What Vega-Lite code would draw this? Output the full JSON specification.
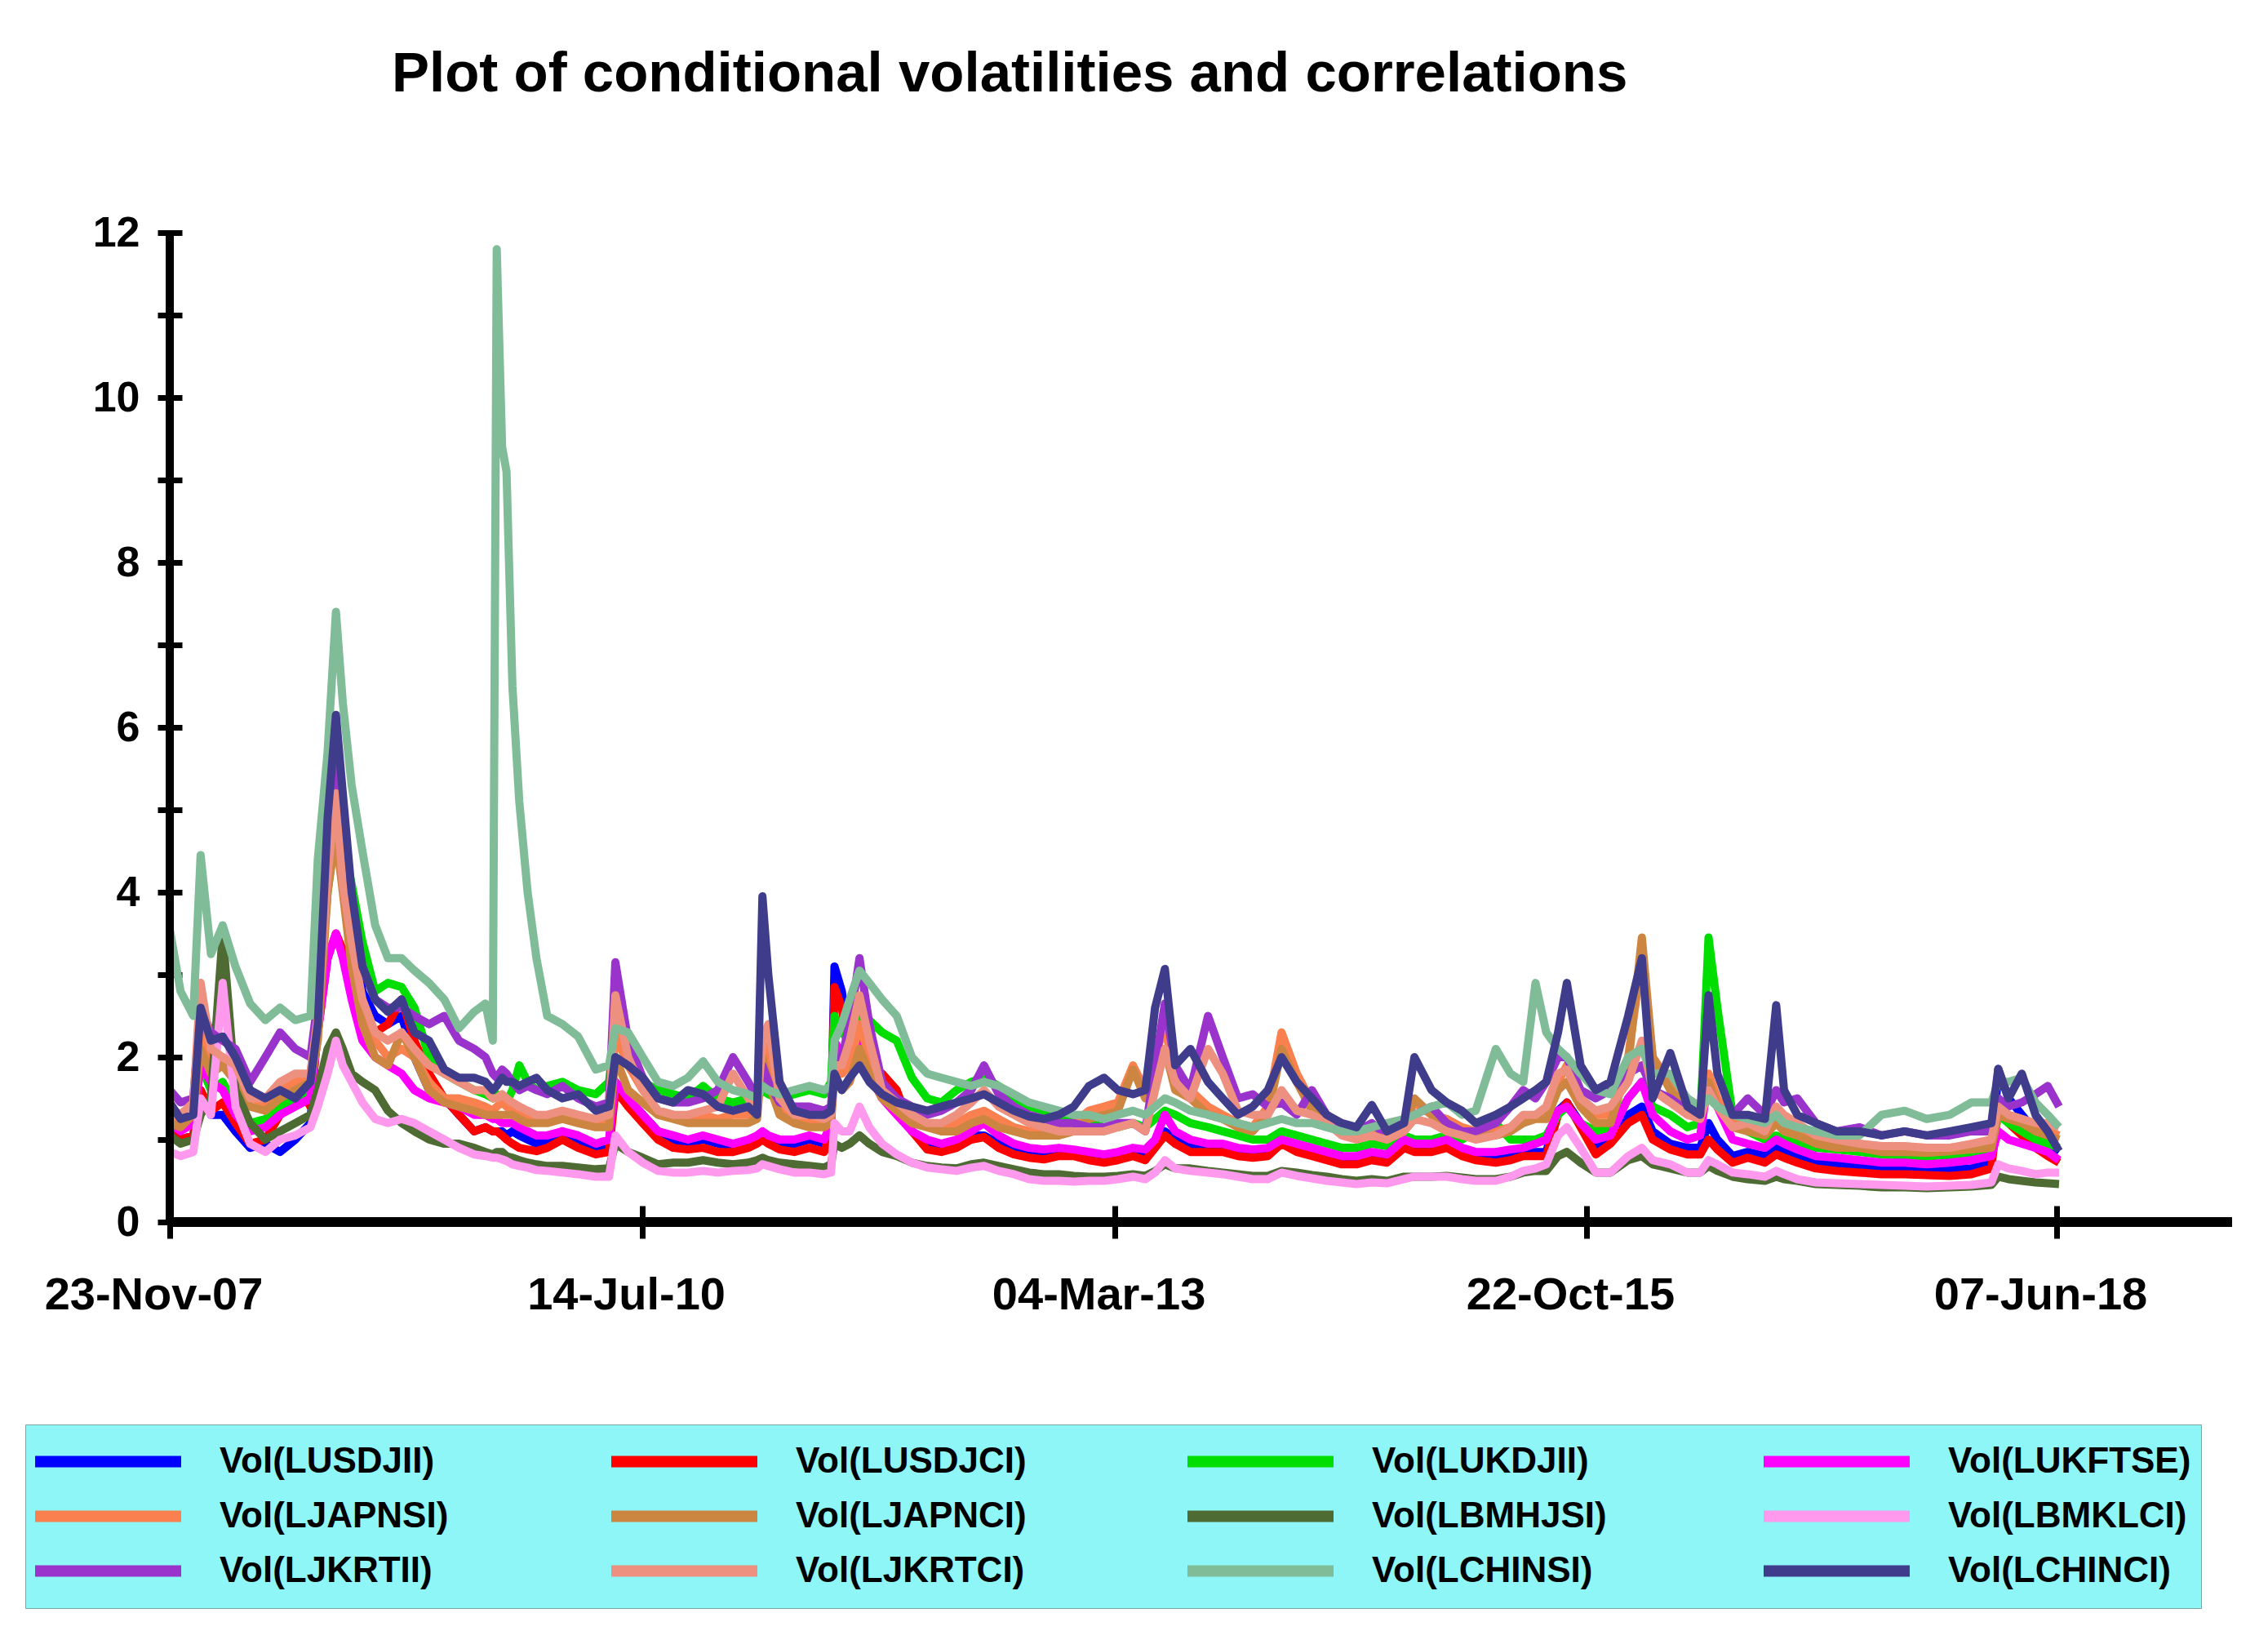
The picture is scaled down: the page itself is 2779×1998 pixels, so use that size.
{
  "$schema": "https://vega.github.io/schema/vega-lite/v6.json",
  "autosize": {"type": "none"},
  "width": 2527,
  "height": 1212,
  "padding": {"left": 208, "top": 285, "right": 44, "bottom": 501},
  "background": "white",
  "config": {"view": {"stroke": null}},
  "title": {
    "text": "Plot of conditional volatilities and correlations",
    "anchor": "start",
    "frame": "group",
    "dx": 272,
    "offset": 133,
    "font": "Liberation Sans",
    "fontSize": 69,
    "fontWeight": "bold",
    "color": "black"
  },
  "data": {
    "values": [
      {"d":"2007-11-23","LUSDJII":1.05,"LUSDJCI":1.1,"LUKDJII":1.3,"LUKFTSE":1.2,"LJAPNSI":1.3,"LJAPNCI":1.2,"LBMHJSI":1.05,"LBMKLCI":0.85,"LJKRTII":1.6,"LJKRTCI":1.4,"LCHINSI":3.55,"LCHINCI":1.45},
      {"d":"2007-12-15","LUSDJII":1.0,"LUSDJCI":1.0,"LUKDJII":1.2,"LUKFTSE":1.1,"LJAPNSI":1.25,"LJAPNCI":1.15,"LBMHJSI":0.95,"LBMKLCI":0.8,"LJKRTII":1.45,"LJKRTCI":1.3,"LCHINSI":2.8,"LCHINCI":1.25},
      {"d":"2008-01-10","LUSDJII":1.05,"LUSDJCI":1.05,"LUKDJII":1.3,"LUKFTSE":1.2,"LJAPNSI":1.4,"LJAPNCI":1.3,"LBMHJSI":1.0,"LBMKLCI":0.85,"LJKRTII":1.5,"LJKRTCI":1.45,"LCHINSI":2.5,"LCHINCI":1.3},
      {"d":"2008-01-25","LUSDJII":1.6,"LUSDJCI":1.6,"LUKDJII":1.9,"LUKFTSE":1.9,"LJAPNSI":2.3,"LJAPNCI":2.1,"LBMHJSI":1.3,"LBMKLCI":1.5,"LJKRTII":2.6,"LJKRTCI":2.9,"LCHINSI":4.45,"LCHINCI":2.6},
      {"d":"2008-02-15","LUSDJII":1.3,"LUSDJCI":1.35,"LUKDJII":1.6,"LUKFTSE":1.7,"LJAPNSI":1.9,"LJAPNCI":1.8,"LBMHJSI":1.5,"LBMKLCI":1.3,"LJKRTII":2.3,"LJKRTCI":2.1,"LCHINSI":3.25,"LCHINCI":2.2},
      {"d":"2008-03-10","LUSDJII":1.3,"LUSDJCI":1.45,"LUKDJII":1.7,"LUKFTSE":1.6,"LJAPNSI":2.0,"LJAPNCI":1.9,"LBMHJSI":3.5,"LBMKLCI":2.9,"LJKRTII":2.2,"LJKRTCI":2.0,"LCHINSI":3.6,"LCHINCI":2.25},
      {"d":"2008-04-05","LUSDJII":1.1,"LUSDJCI":1.2,"LUKDJII":1.4,"LUKFTSE":1.3,"LJAPNSI":1.8,"LJAPNCI":1.7,"LBMHJSI":1.6,"LBMKLCI":1.4,"LJKRTII":2.1,"LJKRTCI":1.9,"LCHINSI":3.1,"LCHINCI":2.0},
      {"d":"2008-05-05","LUSDJII":0.9,"LUSDJCI":0.95,"LUKDJII":1.2,"LUKFTSE":1.1,"LJAPNSI":1.5,"LJAPNCI":1.4,"LBMHJSI":1.2,"LBMKLCI":0.95,"LJKRTII":1.7,"LJKRTCI":1.5,"LCHINSI":2.65,"LCHINCI":1.6},
      {"d":"2008-06-05","LUSDJII":0.95,"LUSDJCI":1.0,"LUKDJII":1.25,"LUKFTSE":1.15,"LJAPNSI":1.45,"LJAPNCI":1.35,"LBMHJSI":1.0,"LBMKLCI":0.85,"LJKRTII":2.0,"LJKRTCI":1.5,"LCHINSI":2.45,"LCHINCI":1.5},
      {"d":"2008-07-05","LUSDJII":0.85,"LUSDJCI":1.3,"LUKDJII":1.4,"LUKFTSE":1.3,"LJAPNSI":1.6,"LJAPNCI":1.5,"LBMHJSI":1.1,"LBMKLCI":1.0,"LJKRTII":2.3,"LJKRTCI":1.7,"LCHINSI":2.6,"LCHINCI":1.6},
      {"d":"2008-08-05","LUSDJII":1.0,"LUSDJCI":1.7,"LUKDJII":1.5,"LUKFTSE":1.4,"LJAPNSI":1.7,"LJAPNCI":1.6,"LBMHJSI":1.2,"LBMKLCI":1.05,"LJKRTII":2.1,"LJKRTCI":1.8,"LCHINSI":2.45,"LCHINCI":1.5},
      {"d":"2008-09-05","LUSDJII":1.2,"LUSDJCI":1.4,"LUKDJII":1.6,"LUKFTSE":1.5,"LJAPNSI":1.8,"LJAPNCI":1.7,"LBMHJSI":1.3,"LBMKLCI":1.15,"LJKRTII":2.0,"LJKRTCI":1.8,"LCHINSI":2.5,"LCHINCI":1.7},
      {"d":"2008-09-20","LUSDJII":2.5,"LUSDJCI":2.3,"LUKDJII":2.6,"LUKFTSE":2.3,"LJAPNSI":2.5,"LJAPNCI":2.2,"LBMHJSI":1.6,"LBMKLCI":1.4,"LJKRTII":2.7,"LJKRTCI":2.5,"LCHINSI":4.4,"LCHINCI":2.4},
      {"d":"2008-10-10","LUSDJII":4.2,"LUSDJCI":3.2,"LUKDJII":4.0,"LUKFTSE":3.2,"LJAPNSI":4.4,"LJAPNCI":4.0,"LBMHJSI":2.1,"LBMKLCI":1.8,"LJKRTII":4.6,"LJKRTCI":4.2,"LCHINSI":5.7,"LCHINCI":4.9},
      {"d":"2008-10-27","LUSDJII":5.3,"LUSDJCI":3.5,"LUKDJII":4.8,"LUKFTSE":3.5,"LJAPNSI":5.0,"LJAPNCI":4.7,"LBMHJSI":2.3,"LBMKLCI":2.2,"LJKRTII":5.6,"LJKRTCI":5.2,"LCHINSI":7.4,"LCHINCI":6.15},
      {"d":"2008-11-10","LUSDJII":4.3,"LUSDJCI":3.3,"LUKDJII":4.6,"LUKFTSE":3.2,"LJAPNSI":4.2,"LJAPNCI":4.0,"LBMHJSI":2.1,"LBMKLCI":1.9,"LJKRTII":4.9,"LJKRTCI":4.1,"LCHINSI":6.3,"LCHINCI":5.2},
      {"d":"2008-11-28","LUSDJII":3.6,"LUSDJCI":3.0,"LUKDJII":4.1,"LUKFTSE":2.7,"LJAPNSI":3.3,"LJAPNCI":3.1,"LBMHJSI":1.8,"LBMKLCI":1.7,"LJKRTII":3.8,"LJKRTCI":3.4,"LCHINSI":5.3,"LCHINCI":4.0},
      {"d":"2008-12-20","LUSDJII":2.8,"LUSDJCI":2.5,"LUKDJII":3.4,"LUKFTSE":2.2,"LJAPNSI":2.6,"LJAPNCI":2.4,"LBMHJSI":1.7,"LBMKLCI":1.45,"LJKRTII":3.1,"LJKRTCI":2.7,"LCHINSI":4.5,"LCHINCI":3.1},
      {"d":"2009-01-15","LUSDJII":2.5,"LUSDJCI":2.3,"LUKDJII":2.8,"LUKFTSE":2.0,"LJAPNSI":2.2,"LJAPNCI":2.0,"LBMHJSI":1.6,"LBMKLCI":1.25,"LJKRTII":2.7,"LJKRTCI":2.3,"LCHINSI":3.6,"LCHINCI":2.7},
      {"d":"2009-02-10","LUSDJII":2.4,"LUSDJCI":2.4,"LUKDJII":2.9,"LUKFTSE":1.9,"LJAPNSI":2.0,"LJAPNCI":1.9,"LBMHJSI":1.35,"LBMKLCI":1.2,"LJKRTII":2.6,"LJKRTCI":2.2,"LCHINSI":3.2,"LCHINCI":2.55},
      {"d":"2009-03-10","LUSDJII":2.5,"LUSDJCI":2.7,"LUKDJII":2.85,"LUKFTSE":1.8,"LJAPNSI":2.1,"LJAPNCI":2.3,"LBMHJSI":1.2,"LBMKLCI":1.25,"LJKRTII":2.6,"LJKRTCI":2.3,"LCHINSI":3.2,"LCHINCI":2.7},
      {"d":"2009-04-05","LUSDJII":2.0,"LUSDJCI":2.2,"LUKDJII":2.6,"LUKFTSE":1.6,"LJAPNSI":2.0,"LJAPNCI":2.0,"LBMHJSI":1.1,"LBMKLCI":1.2,"LJKRTII":2.5,"LJKRTCI":2.1,"LCHINSI":3.05,"LCHINCI":2.3},
      {"d":"2009-05-05","LUSDJII":1.6,"LUSDJCI":1.8,"LUKDJII":2.0,"LUKFTSE":1.5,"LJAPNSI":1.7,"LJAPNCI":1.6,"LBMHJSI":1.0,"LBMKLCI":1.1,"LJKRTII":2.4,"LJKRTCI":1.9,"LCHINSI":2.9,"LCHINCI":2.2},
      {"d":"2009-06-05","LUSDJII":1.5,"LUSDJCI":1.5,"LUKDJII":1.8,"LUKFTSE":1.45,"LJAPNSI":1.5,"LJAPNCI":1.45,"LBMHJSI":0.95,"LBMKLCI":1.0,"LJKRTII":2.5,"LJKRTCI":1.8,"LCHINSI":2.7,"LCHINCI":1.85},
      {"d":"2009-07-05","LUSDJII":1.3,"LUSDJCI":1.3,"LUKDJII":1.7,"LUKFTSE":1.4,"LJAPNSI":1.5,"LJAPNCI":1.4,"LBMHJSI":0.95,"LBMKLCI":0.9,"LJKRTII":2.2,"LJKRTCI":1.7,"LCHINSI":2.35,"LCHINCI":1.75},
      {"d":"2009-08-05","LUSDJII":1.1,"LUSDJCI":1.1,"LUKDJII":1.6,"LUKFTSE":1.3,"LJAPNSI":1.45,"LJAPNCI":1.35,"LBMHJSI":0.9,"LBMKLCI":0.82,"LJKRTII":2.1,"LJKRTCI":1.6,"LCHINSI":2.55,"LCHINCI":1.75},
      {"d":"2009-08-28","LUSDJII":1.15,"LUSDJCI":1.15,"LUKDJII":1.55,"LUKFTSE":1.3,"LJAPNSI":1.4,"LJAPNCI":1.3,"LBMHJSI":0.85,"LBMKLCI":0.8,"LJKRTII":2.0,"LJKRTCI":1.6,"LCHINSI":2.65,"LCHINCI":1.7},
      {"d":"2009-09-12","LUSDJII":1.1,"LUSDJCI":1.1,"LUKDJII":1.5,"LUKFTSE":1.25,"LJAPNSI":1.35,"LJAPNCI":1.3,"LBMHJSI":0.82,"LBMKLCI":0.78,"LJKRTII":1.8,"LJKRTCI":1.5,"LCHINSI":2.2,"LCHINCI":1.6},
      {"d":"2009-09-20","LUSDJII":1.1,"LUSDJCI":1.1,"LUKDJII":1.55,"LUKFTSE":1.25,"LJAPNSI":1.4,"LJAPNCI":1.3,"LBMHJSI":0.85,"LBMKLCI":0.78,"LJKRTII":1.75,"LJKRTCI":1.5,"LCHINSI":11.8,"LCHINCI":1.65},
      {"d":"2009-10-01","LUSDJII":1.1,"LUSDJCI":1.05,"LUKDJII":1.5,"LUKFTSE":1.2,"LJAPNSI":1.45,"LJAPNCI":1.3,"LBMHJSI":0.85,"LBMKLCI":0.76,"LJKRTII":1.85,"LJKRTCI":1.55,"LCHINSI":9.4,"LCHINCI":1.75},
      {"d":"2009-10-10","LUSDJII":1.05,"LUSDJCI":1.0,"LUKDJII":1.45,"LUKFTSE":1.2,"LJAPNSI":1.4,"LJAPNCI":1.3,"LBMHJSI":0.8,"LBMKLCI":0.74,"LJKRTII":1.8,"LJKRTCI":1.5,"LCHINSI":9.1,"LCHINCI":1.7},
      {"d":"2009-10-22","LUSDJII":1.1,"LUSDJCI":0.95,"LUKDJII":1.6,"LUKFTSE":1.2,"LJAPNSI":1.35,"LJAPNCI":1.3,"LBMHJSI":0.78,"LBMKLCI":0.7,"LJKRTII":1.7,"LJKRTCI":1.45,"LCHINSI":6.5,"LCHINCI":1.7},
      {"d":"2009-11-05","LUSDJII":1.05,"LUSDJCI":0.9,"LUKDJII":1.9,"LUKFTSE":1.15,"LJAPNSI":1.3,"LJAPNCI":1.25,"LBMHJSI":0.75,"LBMKLCI":0.68,"LJKRTII":1.6,"LJKRTCI":1.4,"LCHINSI":5.1,"LCHINCI":1.65},
      {"d":"2009-11-22","LUSDJII":1.0,"LUSDJCI":0.88,"LUKDJII":1.7,"LUKFTSE":1.1,"LJAPNSI":1.3,"LJAPNCI":1.2,"LBMHJSI":0.72,"LBMKLCI":0.66,"LJKRTII":1.65,"LJKRTCI":1.35,"LCHINSI":4.0,"LCHINCI":1.7},
      {"d":"2009-12-10","LUSDJII":0.95,"LUSDJCI":0.86,"LUKDJII":1.6,"LUKFTSE":1.05,"LJAPNSI":1.25,"LJAPNCI":1.2,"LBMHJSI":0.7,"LBMKLCI":0.63,"LJKRTII":1.6,"LJKRTCI":1.3,"LCHINSI":3.2,"LCHINCI":1.75},
      {"d":"2010-01-01","LUSDJII":0.95,"LUSDJCI":0.9,"LUKDJII":1.65,"LUKFTSE":1.05,"LJAPNSI":1.25,"LJAPNCI":1.2,"LBMHJSI":0.68,"LBMKLCI":0.62,"LJKRTII":1.55,"LJKRTCI":1.3,"LCHINSI":2.5,"LCHINCI":1.6},
      {"d":"2010-02-01","LUSDJII":1.1,"LUSDJCI":1.0,"LUKDJII":1.7,"LUKFTSE":1.1,"LJAPNSI":1.3,"LJAPNCI":1.25,"LBMHJSI":0.68,"LBMKLCI":0.6,"LJKRTII":1.65,"LJKRTCI":1.35,"LCHINSI":2.4,"LCHINCI":1.5},
      {"d":"2010-03-05","LUSDJII":0.95,"LUSDJCI":0.9,"LUKDJII":1.6,"LUKFTSE":1.05,"LJAPNSI":1.25,"LJAPNCI":1.2,"LBMHJSI":0.66,"LBMKLCI":0.58,"LJKRTII":1.5,"LJKRTCI":1.3,"LCHINSI":2.25,"LCHINCI":1.55},
      {"d":"2010-04-10","LUSDJII":0.85,"LUSDJCI":0.82,"LUKDJII":1.55,"LUKFTSE":0.95,"LJAPNSI":1.2,"LJAPNCI":1.15,"LBMHJSI":0.64,"LBMKLCI":0.55,"LJKRTII":1.4,"LJKRTCI":1.25,"LCHINSI":1.85,"LCHINCI":1.35},
      {"d":"2010-05-07","LUSDJII":0.9,"LUSDJCI":0.85,"LUKDJII":1.7,"LUKFTSE":1.0,"LJAPNSI":1.2,"LJAPNCI":1.15,"LBMHJSI":0.65,"LBMKLCI":0.55,"LJKRTII":1.45,"LJKRTCI":1.3,"LCHINSI":1.9,"LCHINCI":1.4},
      {"d":"2010-05-20","LUSDJII":1.7,"LUSDJCI":1.6,"LUKDJII":2.3,"LUKFTSE":1.7,"LJAPNSI":2.3,"LJAPNCI":2.0,"LBMHJSI":0.95,"LBMKLCI":1.05,"LJKRTII":3.15,"LJKRTCI":2.75,"LCHINSI":2.35,"LCHINCI":2.0},
      {"d":"2010-06-15","LUSDJII":1.5,"LUSDJCI":1.4,"LUKDJII":1.9,"LUKFTSE":1.5,"LJAPNSI":1.9,"LJAPNCI":1.6,"LBMHJSI":0.85,"LBMKLCI":0.85,"LJKRTII":2.2,"LJKRTCI":2.0,"LCHINSI":2.3,"LCHINCI":1.9},
      {"d":"2010-07-15","LUSDJII":1.3,"LUSDJCI":1.2,"LUKDJII":1.7,"LUKFTSE":1.3,"LJAPNSI":1.6,"LJAPNCI":1.45,"LBMHJSI":0.78,"LBMKLCI":0.72,"LJKRTII":1.75,"LJKRTCI":1.6,"LCHINSI":2.0,"LCHINCI":1.75},
      {"d":"2010-08-15","LUSDJII":1.1,"LUSDJCI":1.0,"LUKDJII":1.6,"LUKFTSE":1.1,"LJAPNSI":1.35,"LJAPNCI":1.3,"LBMHJSI":0.7,"LBMKLCI":0.62,"LJKRTII":1.5,"LJKRTCI":1.35,"LCHINSI":1.7,"LCHINCI":1.5},
      {"d":"2010-09-15","LUSDJII":1.0,"LUSDJCI":0.9,"LUKDJII":1.55,"LUKFTSE":1.05,"LJAPNSI":1.3,"LJAPNCI":1.25,"LBMHJSI":0.72,"LBMKLCI":0.6,"LJKRTII":1.45,"LJKRTCI":1.3,"LCHINSI":1.65,"LCHINCI":1.45},
      {"d":"2010-10-15","LUSDJII":0.95,"LUSDJCI":0.88,"LUKDJII":1.5,"LUKFTSE":1.0,"LJAPNSI":1.25,"LJAPNCI":1.2,"LBMHJSI":0.72,"LBMKLCI":0.6,"LJKRTII":1.45,"LJKRTCI":1.3,"LCHINSI":1.75,"LCHINCI":1.6},
      {"d":"2010-11-15","LUSDJII":1.0,"LUSDJCI":0.9,"LUKDJII":1.65,"LUKFTSE":1.05,"LJAPNSI":1.3,"LJAPNCI":1.2,"LBMHJSI":0.75,"LBMKLCI":0.62,"LJKRTII":1.5,"LJKRTCI":1.35,"LCHINSI":1.95,"LCHINCI":1.55},
      {"d":"2010-12-15","LUSDJII":0.95,"LUSDJCI":0.85,"LUKDJII":1.5,"LUKFTSE":1.0,"LJAPNSI":1.25,"LJAPNCI":1.2,"LBMHJSI":0.72,"LBMKLCI":0.6,"LJKRTII":1.6,"LJKRTCI":1.4,"LCHINSI":1.7,"LCHINCI":1.4},
      {"d":"2011-01-15","LUSDJII":0.9,"LUSDJCI":0.85,"LUKDJII":1.45,"LUKFTSE":0.95,"LJAPNSI":1.3,"LJAPNCI":1.2,"LBMHJSI":0.7,"LBMKLCI":0.62,"LJKRTII":2.0,"LJKRTCI":1.8,"LCHINSI":1.6,"LCHINCI":1.35},
      {"d":"2011-02-15","LUSDJII":0.95,"LUSDJCI":0.9,"LUKDJII":1.5,"LUKFTSE":1.0,"LJAPNSI":1.3,"LJAPNCI":1.2,"LBMHJSI":0.72,"LBMKLCI":0.63,"LJKRTII":1.7,"LJKRTCI":1.5,"LCHINSI":1.55,"LCHINCI":1.4},
      {"d":"2011-03-05","LUSDJII":1.0,"LUSDJCI":0.95,"LUKDJII":1.5,"LUKFTSE":1.05,"LJAPNSI":1.3,"LJAPNCI":1.25,"LBMHJSI":0.75,"LBMKLCI":0.65,"LJKRTII":1.5,"LJKRTCI":1.35,"LCHINSI":1.5,"LCHINCI":1.3},
      {"d":"2011-03-16","LUSDJII":1.05,"LUSDJCI":1.0,"LUKDJII":1.6,"LUKFTSE":1.1,"LJAPNSI":2.2,"LJAPNCI":2.0,"LBMHJSI":0.78,"LBMKLCI":0.7,"LJKRTII":1.9,"LJKRTCI":2.2,"LCHINSI":1.65,"LCHINCI":3.95},
      {"d":"2011-03-28","LUSDJII":1.0,"LUSDJCI":0.95,"LUKDJII":1.55,"LUKFTSE":1.05,"LJAPNSI":1.9,"LJAPNCI":1.7,"LBMHJSI":0.75,"LBMKLCI":0.68,"LJKRTII":1.7,"LJKRTCI":2.4,"LCHINSI":1.6,"LCHINCI":3.0},
      {"d":"2011-04-20","LUSDJII":0.95,"LUSDJCI":0.88,"LUKDJII":1.5,"LUKFTSE":1.0,"LJAPNSI":1.4,"LJAPNCI":1.3,"LBMHJSI":0.72,"LBMKLCI":0.64,"LJKRTII":1.45,"LJKRTCI":1.5,"LCHINSI":1.55,"LCHINCI":1.7},
      {"d":"2011-05-20","LUSDJII":0.95,"LUSDJCI":0.85,"LUKDJII":1.55,"LUKFTSE":1.0,"LJAPNSI":1.25,"LJAPNCI":1.2,"LBMHJSI":0.7,"LBMKLCI":0.6,"LJKRTII":1.4,"LJKRTCI":1.3,"LCHINSI":1.6,"LCHINCI":1.35},
      {"d":"2011-06-20","LUSDJII":1.0,"LUSDJCI":0.9,"LUKDJII":1.6,"LUKFTSE":1.05,"LJAPNSI":1.2,"LJAPNCI":1.15,"LBMHJSI":0.68,"LBMKLCI":0.6,"LJKRTII":1.4,"LJKRTCI":1.3,"LCHINSI":1.65,"LCHINCI":1.3},
      {"d":"2011-07-20","LUSDJII":0.95,"LUSDJCI":0.85,"LUKDJII":1.55,"LUKFTSE":1.0,"LJAPNSI":1.2,"LJAPNCI":1.15,"LBMHJSI":0.66,"LBMKLCI":0.58,"LJKRTII":1.35,"LJKRTCI":1.25,"LCHINSI":1.6,"LCHINCI":1.3},
      {"d":"2011-08-03","LUSDJII":1.2,"LUSDJCI":1.1,"LUKDJII":1.7,"LUKFTSE":1.2,"LJAPNSI":1.3,"LJAPNCI":1.2,"LBMHJSI":0.7,"LBMKLCI":0.6,"LJKRTII":1.4,"LJKRTCI":1.3,"LCHINSI":1.65,"LCHINCI":1.35},
      {"d":"2011-08-10","LUSDJII":3.1,"LUSDJCI":2.85,"LUKDJII":2.5,"LUKFTSE":2.2,"LJAPNSI":2.0,"LJAPNCI":1.8,"LBMHJSI":0.95,"LBMKLCI":1.2,"LJKRTII":2.0,"LJKRTCI":1.9,"LCHINSI":2.2,"LCHINCI":1.8},
      {"d":"2011-08-25","LUSDJII":2.8,"LUSDJCI":2.6,"LUKDJII":2.3,"LUKFTSE":2.0,"LJAPNSI":1.8,"LJAPNCI":1.6,"LBMHJSI":0.9,"LBMKLCI":1.1,"LJKRTII":2.0,"LJKRTCI":1.9,"LCHINSI":2.4,"LCHINCI":1.6},
      {"d":"2011-09-10","LUSDJII":2.0,"LUSDJCI":1.9,"LUKDJII":2.2,"LUKFTSE":1.9,"LJAPNSI":1.9,"LJAPNCI":1.7,"LBMHJSI":0.95,"LBMKLCI":1.1,"LJKRTII":2.4,"LJKRTCI":2.2,"LCHINSI":2.7,"LCHINCI":1.75},
      {"d":"2011-09-30","LUSDJII":2.2,"LUSDJCI":2.1,"LUKDJII":2.5,"LUKFTSE":2.15,"LJAPNSI":2.4,"LJAPNCI":2.1,"LBMHJSI":1.05,"LBMKLCI":1.4,"LJKRTII":3.2,"LJKRTCI":2.75,"LCHINSI":3.05,"LCHINCI":1.9},
      {"d":"2011-10-20","LUSDJII":1.9,"LUSDJCI":1.85,"LUKDJII":2.45,"LUKFTSE":1.8,"LJAPNSI":2.0,"LJAPNCI":1.8,"LBMHJSI":0.95,"LBMKLCI":1.15,"LJKRTII":2.4,"LJKRTCI":2.2,"LCHINSI":2.9,"LCHINCI":1.7},
      {"d":"2011-11-15","LUSDJII":1.7,"LUSDJCI":1.8,"LUKDJII":2.3,"LUKFTSE":1.5,"LJAPNSI":1.6,"LJAPNCI":1.5,"LBMHJSI":0.85,"LBMKLCI":0.95,"LJKRTII":1.7,"LJKRTCI":1.6,"LCHINSI":2.7,"LCHINCI":1.55},
      {"d":"2011-12-15","LUSDJII":1.4,"LUSDJCI":1.6,"LUKDJII":2.2,"LUKFTSE":1.3,"LJAPNSI":1.45,"LJAPNCI":1.35,"LBMHJSI":0.8,"LBMKLCI":0.82,"LJKRTII":1.5,"LJKRTCI":1.45,"LCHINSI":2.5,"LCHINCI":1.45},
      {"d":"2012-01-15","LUSDJII":1.1,"LUSDJCI":1.1,"LUKDJII":1.75,"LUKFTSE":1.1,"LJAPNSI":1.3,"LJAPNCI":1.2,"LBMHJSI":0.72,"LBMKLCI":0.72,"LJKRTII":1.4,"LJKRTCI":1.3,"LCHINSI":2.0,"LCHINCI":1.4},
      {"d":"2012-02-15","LUSDJII":0.95,"LUSDJCI":0.88,"LUKDJII":1.5,"LUKFTSE":1.0,"LJAPNSI":1.2,"LJAPNCI":1.15,"LBMHJSI":0.68,"LBMKLCI":0.66,"LJKRTII":1.3,"LJKRTCI":1.2,"LCHINSI":1.8,"LCHINCI":1.35},
      {"d":"2012-03-15","LUSDJII":0.9,"LUSDJCI":0.85,"LUKDJII":1.45,"LUKFTSE":0.95,"LJAPNSI":1.15,"LJAPNCI":1.1,"LBMHJSI":0.66,"LBMKLCI":0.64,"LJKRTII":1.35,"LJKRTCI":1.2,"LCHINSI":1.75,"LCHINCI":1.4},
      {"d":"2012-04-15","LUSDJII":0.95,"LUSDJCI":0.9,"LUKDJII":1.6,"LUKFTSE":1.0,"LJAPNSI":1.2,"LJAPNCI":1.1,"LBMHJSI":0.65,"LBMKLCI":0.62,"LJKRTII":1.45,"LJKRTCI":1.3,"LCHINSI":1.7,"LCHINCI":1.45},
      {"d":"2012-05-15","LUSDJII":1.05,"LUSDJCI":1.0,"LUKDJII":1.7,"LUKFTSE":1.1,"LJAPNSI":1.3,"LJAPNCI":1.2,"LBMHJSI":0.7,"LBMKLCI":0.66,"LJKRTII":1.6,"LJKRTCI":1.45,"LCHINSI":1.65,"LCHINCI":1.5},
      {"d":"2012-06-10","LUSDJII":1.05,"LUSDJCI":1.03,"LUKDJII":1.75,"LUKFTSE":1.2,"LJAPNSI":1.35,"LJAPNCI":1.25,"LBMHJSI":0.72,"LBMKLCI":0.68,"LJKRTII":1.9,"LJKRTCI":1.6,"LCHINSI":1.7,"LCHINCI":1.55},
      {"d":"2012-07-10","LUSDJII":0.95,"LUSDJCI":0.9,"LUKDJII":1.65,"LUKFTSE":1.05,"LJAPNSI":1.25,"LJAPNCI":1.15,"LBMHJSI":0.68,"LBMKLCI":0.62,"LJKRTII":1.55,"LJKRTCI":1.4,"LCHINSI":1.65,"LCHINCI":1.45},
      {"d":"2012-08-10","LUSDJII":0.88,"LUSDJCI":0.82,"LUKDJII":1.5,"LUKFTSE":0.95,"LJAPNSI":1.15,"LJAPNCI":1.1,"LBMHJSI":0.64,"LBMKLCI":0.58,"LJKRTII":1.4,"LJKRTCI":1.3,"LCHINSI":1.55,"LCHINCI":1.35},
      {"d":"2012-09-10","LUSDJII":0.85,"LUSDJCI":0.78,"LUKDJII":1.4,"LUKFTSE":0.9,"LJAPNSI":1.1,"LJAPNCI":1.05,"LBMHJSI":0.6,"LBMKLCI":0.52,"LJKRTII":1.3,"LJKRTCI":1.2,"LCHINSI":1.45,"LCHINCI":1.28},
      {"d":"2012-10-10","LUSDJII":0.82,"LUSDJCI":0.76,"LUKDJII":1.35,"LUKFTSE":0.88,"LJAPNSI":1.1,"LJAPNCI":1.05,"LBMHJSI":0.58,"LBMKLCI":0.5,"LJKRTII":1.25,"LJKRTCI":1.15,"LCHINSI":1.4,"LCHINCI":1.25},
      {"d":"2012-11-10","LUSDJII":0.85,"LUSDJCI":0.8,"LUKDJII":1.3,"LUKFTSE":0.9,"LJAPNSI":1.15,"LJAPNCI":1.05,"LBMHJSI":0.58,"LBMKLCI":0.5,"LJKRTII":1.2,"LJKRTCI":1.1,"LCHINSI":1.35,"LCHINCI":1.3},
      {"d":"2012-12-10","LUSDJII":0.85,"LUSDJCI":0.8,"LUKDJII":1.25,"LUKFTSE":0.88,"LJAPNSI":1.2,"LJAPNCI":1.1,"LBMHJSI":0.56,"LBMKLCI":0.49,"LJKRTII":1.2,"LJKRTCI":1.1,"LCHINSI":1.3,"LCHINCI":1.4},
      {"d":"2013-01-10","LUSDJII":0.8,"LUSDJCI":0.75,"LUKDJII":1.2,"LUKFTSE":0.85,"LJAPNSI":1.35,"LJAPNCI":1.25,"LBMHJSI":0.55,"LBMKLCI":0.5,"LJKRTII":1.15,"LJKRTCI":1.1,"LCHINSI":1.3,"LCHINCI":1.65},
      {"d":"2013-02-10","LUSDJII":0.78,"LUSDJCI":0.72,"LUKDJII":1.15,"LUKFTSE":0.82,"LJAPNSI":1.4,"LJAPNCI":1.3,"LBMHJSI":0.55,"LBMKLCI":0.5,"LJKRTII":1.15,"LJKRTCI":1.1,"LCHINSI":1.25,"LCHINCI":1.75},
      {"d":"2013-03-10","LUSDJII":0.8,"LUSDJCI":0.75,"LUKDJII":1.15,"LUKFTSE":0.85,"LJAPNSI":1.45,"LJAPNCI":1.35,"LBMHJSI":0.56,"LBMKLCI":0.52,"LJKRTII":1.2,"LJKRTCI":1.15,"LCHINSI":1.3,"LCHINCI":1.6},
      {"d":"2013-04-10","LUSDJII":0.85,"LUSDJCI":0.8,"LUKDJII":1.2,"LUKFTSE":0.9,"LJAPNSI":1.9,"LJAPNCI":1.85,"LBMHJSI":0.58,"LBMKLCI":0.55,"LJKRTII":1.2,"LJKRTCI":1.2,"LCHINSI":1.35,"LCHINCI":1.55},
      {"d":"2013-05-05","LUSDJII":0.8,"LUSDJCI":0.75,"LUKDJII":1.15,"LUKFTSE":0.88,"LJAPNSI":1.6,"LJAPNCI":1.5,"LBMHJSI":0.56,"LBMKLCI":0.52,"LJKRTII":1.1,"LJKRTCI":1.1,"LCHINSI":1.3,"LCHINCI":1.6},
      {"d":"2013-05-25","LUSDJII":0.95,"LUSDJCI":0.9,"LUKDJII":1.25,"LUKFTSE":1.0,"LJAPNSI":2.0,"LJAPNCI":1.8,"LBMHJSI":0.62,"LBMKLCI":0.6,"LJKRTII":1.9,"LJKRTCI":1.6,"LCHINSI":1.4,"LCHINCI":2.6},
      {"d":"2013-06-14","LUSDJII":1.1,"LUSDJCI":1.05,"LUKDJII":1.35,"LUKFTSE":1.3,"LJAPNSI":2.4,"LJAPNCI":2.1,"LBMHJSI":0.7,"LBMKLCI":0.75,"LJKRTII":2.65,"LJKRTCI":2.1,"LCHINSI":1.5,"LCHINCI":3.07},
      {"d":"2013-07-05","LUSDJII":1.0,"LUSDJCI":0.95,"LUKDJII":1.3,"LUKFTSE":1.1,"LJAPNSI":1.7,"LJAPNCI":1.6,"LBMHJSI":0.65,"LBMKLCI":0.65,"LJKRTII":1.9,"LJKRTCI":1.7,"LCHINSI":1.45,"LCHINCI":1.9},
      {"d":"2013-08-05","LUSDJII":0.9,"LUSDJCI":0.85,"LUKDJII":1.2,"LUKFTSE":1.0,"LJAPNSI":1.6,"LJAPNCI":1.5,"LBMHJSI":0.65,"LBMKLCI":0.62,"LJKRTII":1.6,"LJKRTCI":1.5,"LCHINSI":1.35,"LCHINCI":2.1},
      {"d":"2013-09-10","LUSDJII":0.9,"LUSDJCI":0.85,"LUKDJII":1.15,"LUKFTSE":0.95,"LJAPNSI":1.4,"LJAPNCI":1.3,"LBMHJSI":0.62,"LBMKLCI":0.6,"LJKRTII":2.5,"LJKRTCI":2.1,"LCHINSI":1.3,"LCHINCI":1.7},
      {"d":"2013-10-10","LUSDJII":0.9,"LUSDJCI":0.85,"LUKDJII":1.1,"LUKFTSE":0.95,"LJAPNSI":1.3,"LJAPNCI":1.25,"LBMHJSI":0.6,"LBMKLCI":0.58,"LJKRTII":2.0,"LJKRTCI":1.8,"LCHINSI":1.25,"LCHINCI":1.5},
      {"d":"2013-11-10","LUSDJII":0.85,"LUSDJCI":0.8,"LUKDJII":1.05,"LUKFTSE":0.9,"LJAPNSI":1.2,"LJAPNCI":1.15,"LBMHJSI":0.58,"LBMKLCI":0.55,"LJKRTII":1.5,"LJKRTCI":1.35,"LCHINSI":1.2,"LCHINCI":1.3},
      {"d":"2013-12-10","LUSDJII":0.82,"LUSDJCI":0.78,"LUKDJII":1.0,"LUKFTSE":0.88,"LJAPNSI":1.15,"LJAPNCI":1.1,"LBMHJSI":0.56,"LBMKLCI":0.52,"LJKRTII":1.55,"LJKRTCI":1.3,"LCHINSI":1.15,"LCHINCI":1.4},
      {"d":"2014-01-10","LUSDJII":0.85,"LUSDJCI":0.8,"LUKDJII":1.0,"LUKFTSE":0.9,"LJAPNSI":1.4,"LJAPNCI":1.3,"LBMHJSI":0.56,"LBMKLCI":0.52,"LJKRTII":1.4,"LJKRTCI":1.3,"LCHINSI":1.2,"LCHINCI":1.6},
      {"d":"2014-02-07","LUSDJII":1.0,"LUSDJCI":0.95,"LUKDJII":1.1,"LUKFTSE":1.0,"LJAPNSI":2.3,"LJAPNCI":2.1,"LBMHJSI":0.62,"LBMKLCI":0.6,"LJKRTII":1.45,"LJKRTCI":1.6,"LCHINSI":1.25,"LCHINCI":2.0},
      {"d":"2014-03-10","LUSDJII":0.9,"LUSDJCI":0.85,"LUKDJII":1.05,"LUKFTSE":0.95,"LJAPNSI":1.8,"LJAPNCI":1.7,"LBMHJSI":0.6,"LBMKLCI":0.56,"LJKRTII":1.3,"LJKRTCI":1.35,"LCHINSI":1.2,"LCHINCI":1.7},
      {"d":"2014-04-10","LUSDJII":0.85,"LUSDJCI":0.8,"LUKDJII":1.0,"LUKFTSE":0.9,"LJAPNSI":1.45,"LJAPNCI":1.35,"LBMHJSI":0.57,"LBMKLCI":0.53,"LJKRTII":1.6,"LJKRTCI":1.3,"LCHINSI":1.2,"LCHINCI":1.5},
      {"d":"2014-05-10","LUSDJII":0.8,"LUSDJCI":0.75,"LUKDJII":0.95,"LUKFTSE":0.85,"LJAPNSI":1.3,"LJAPNCI":1.2,"LBMHJSI":0.55,"LBMKLCI":0.5,"LJKRTII":1.3,"LJKRTCI":1.2,"LCHINSI":1.15,"LCHINCI":1.3},
      {"d":"2014-06-10","LUSDJII":0.75,"LUSDJCI":0.7,"LUKDJII":0.9,"LUKFTSE":0.8,"LJAPNSI":1.15,"LJAPNCI":1.1,"LBMHJSI":0.52,"LBMKLCI":0.48,"LJKRTII":1.15,"LJKRTCI":1.05,"LCHINSI":1.1,"LCHINCI":1.2},
      {"d":"2014-07-10","LUSDJII":0.75,"LUSDJCI":0.7,"LUKDJII":0.9,"LUKFTSE":0.8,"LJAPNSI":1.1,"LJAPNCI":1.05,"LBMHJSI":0.5,"LBMKLCI":0.46,"LJKRTII":1.1,"LJKRTCI":1.0,"LCHINSI":1.1,"LCHINCI":1.15},
      {"d":"2014-08-10","LUSDJII":0.8,"LUSDJCI":0.75,"LUKDJII":0.95,"LUKFTSE":0.85,"LJAPNSI":1.1,"LJAPNCI":1.05,"LBMHJSI":0.52,"LBMKLCI":0.48,"LJKRTII":1.2,"LJKRTCI":1.05,"LCHINSI":1.15,"LCHINCI":1.42},
      {"d":"2014-09-10","LUSDJII":0.78,"LUSDJCI":0.72,"LUKDJII":0.92,"LUKFTSE":0.82,"LJAPNSI":1.05,"LJAPNCI":1.0,"LBMHJSI":0.5,"LBMKLCI":0.47,"LJKRTII":1.05,"LJKRTCI":1.0,"LCHINSI":1.2,"LCHINCI":1.1},
      {"d":"2014-10-15","LUSDJII":0.95,"LUSDJCI":0.9,"LUKDJII":1.05,"LUKFTSE":1.0,"LJAPNSI":1.2,"LJAPNCI":1.15,"LBMHJSI":0.55,"LBMKLCI":0.52,"LJKRTII":1.2,"LJKRTCI":1.1,"LCHINSI":1.25,"LCHINCI":1.2},
      {"d":"2014-11-05","LUSDJII":0.9,"LUSDJCI":0.85,"LUKDJII":1.0,"LUKFTSE":0.95,"LJAPNSI":1.45,"LJAPNCI":1.5,"LBMHJSI":0.55,"LBMKLCI":0.55,"LJKRTII":1.3,"LJKRTCI":1.25,"LCHINSI":1.3,"LCHINCI":2.0},
      {"d":"2014-12-10","LUSDJII":0.9,"LUSDJCI":0.85,"LUKDJII":1.0,"LUKFTSE":0.95,"LJAPNSI":1.3,"LJAPNCI":1.3,"LBMHJSI":0.55,"LBMKLCI":0.55,"LJKRTII":1.4,"LJKRTCI":1.2,"LCHINSI":1.4,"LCHINCI":1.6},
      {"d":"2015-01-10","LUSDJII":0.95,"LUSDJCI":0.9,"LUKDJII":1.05,"LUKFTSE":1.0,"LJAPNSI":1.25,"LJAPNCI":1.2,"LBMHJSI":0.56,"LBMKLCI":0.55,"LJKRTII":1.2,"LJKRTCI":1.1,"LCHINSI":1.45,"LCHINCI":1.45},
      {"d":"2015-02-10","LUSDJII":0.85,"LUSDJCI":0.8,"LUKDJII":1.0,"LUKFTSE":0.9,"LJAPNSI":1.15,"LJAPNCI":1.1,"LBMHJSI":0.54,"LBMKLCI":0.52,"LJKRTII":1.1,"LJKRTCI":1.05,"LCHINSI":1.3,"LCHINCI":1.35},
      {"d":"2015-03-10","LUSDJII":0.8,"LUSDJCI":0.75,"LUKDJII":1.1,"LUKFTSE":0.85,"LJAPNSI":1.1,"LJAPNCI":1.05,"LBMHJSI":0.52,"LBMKLCI":0.5,"LJKRTII":1.1,"LJKRTCI":1.0,"LCHINSI":1.35,"LCHINCI":1.2},
      {"d":"2015-04-20","LUSDJII":0.78,"LUSDJCI":0.72,"LUKDJII":1.2,"LUKFTSE":0.85,"LJAPNSI":1.1,"LJAPNCI":1.05,"LBMHJSI":0.52,"LBMKLCI":0.5,"LJKRTII":1.2,"LJKRTCI":1.05,"LCHINSI":2.1,"LCHINCI":1.3},
      {"d":"2015-05-20","LUSDJII":0.8,"LUSDJCI":0.75,"LUKDJII":1.0,"LUKFTSE":0.88,"LJAPNSI":1.15,"LJAPNCI":1.1,"LBMHJSI":0.55,"LBMKLCI":0.55,"LJKRTII":1.4,"LJKRTCI":1.15,"LCHINSI":1.8,"LCHINCI":1.4},
      {"d":"2015-06-15","LUSDJII":0.85,"LUSDJCI":0.8,"LUKDJII":1.0,"LUKFTSE":0.9,"LJAPNSI":1.25,"LJAPNCI":1.2,"LBMHJSI":0.6,"LBMKLCI":0.62,"LJKRTII":1.6,"LJKRTCI":1.3,"LCHINSI":1.7,"LCHINCI":1.5},
      {"d":"2015-07-10","LUSDJII":0.85,"LUSDJCI":0.8,"LUKDJII":1.0,"LUKFTSE":0.95,"LJAPNSI":1.3,"LJAPNCI":1.25,"LBMHJSI":0.62,"LBMKLCI":0.65,"LJKRTII":1.5,"LJKRTCI":1.3,"LCHINSI":2.9,"LCHINCI":1.6},
      {"d":"2015-08-01","LUSDJII":0.85,"LUSDJCI":0.8,"LUKDJII":1.05,"LUKFTSE":1.0,"LJAPNSI":1.3,"LJAPNCI":1.25,"LBMHJSI":0.62,"LBMKLCI":0.7,"LJKRTII":1.7,"LJKRTCI":1.4,"LCHINSI":2.3,"LCHINCI":1.7},
      {"d":"2015-08-25","LUSDJII":1.35,"LUSDJCI":1.3,"LUKDJII":1.3,"LUKFTSE":1.35,"LJAPNSI":1.7,"LJAPNCI":1.6,"LBMHJSI":0.8,"LBMKLCI":1.05,"LJKRTII":2.0,"LJKRTCI":1.8,"LCHINSI":2.1,"LCHINCI":2.3},
      {"d":"2015-09-12","LUSDJII":1.45,"LUSDJCI":1.45,"LUKDJII":1.4,"LUKFTSE":1.4,"LJAPNSI":1.9,"LJAPNCI":1.7,"LBMHJSI":0.85,"LBMKLCI":1.15,"LJKRTII":2.0,"LJKRTCI":1.85,"LCHINSI":2.0,"LCHINCI":2.9},
      {"d":"2015-10-10","LUSDJII":1.2,"LUSDJCI":1.15,"LUKDJII":1.2,"LUKFTSE":1.2,"LJAPNSI":1.5,"LJAPNCI":1.4,"LBMHJSI":0.72,"LBMKLCI":0.9,"LJKRTII":1.6,"LJKRTCI":1.5,"LCHINSI":1.8,"LCHINCI":1.9},
      {"d":"2015-11-10","LUSDJII":0.9,"LUSDJCI":0.82,"LUKDJII":1.1,"LUKFTSE":1.0,"LJAPNSI":1.3,"LJAPNCI":1.2,"LBMHJSI":0.6,"LBMKLCI":0.6,"LJKRTII":1.5,"LJKRTCI":1.35,"LCHINSI":1.6,"LCHINCI":1.6},
      {"d":"2015-12-10","LUSDJII":1.0,"LUSDJCI":0.95,"LUKDJII":1.15,"LUKFTSE":1.05,"LJAPNSI":1.3,"LJAPNCI":1.2,"LBMHJSI":0.6,"LBMKLCI":0.6,"LJKRTII":1.6,"LJKRTCI":1.4,"LCHINSI":1.55,"LCHINCI":1.7},
      {"d":"2016-01-15","LUSDJII":1.3,"LUSDJCI":1.2,"LUKDJII":1.5,"LUKFTSE":1.5,"LJAPNSI":2.0,"LJAPNCI":1.9,"LBMHJSI":0.75,"LBMKLCI":0.8,"LJKRTII":1.8,"LJKRTCI":1.7,"LCHINSI":2.0,"LCHINCI":2.5},
      {"d":"2016-02-12","LUSDJII":1.4,"LUSDJCI":1.3,"LUKDJII":1.7,"LUKFTSE":1.7,"LJAPNSI":3.2,"LJAPNCI":3.45,"LBMHJSI":0.8,"LBMKLCI":0.9,"LJKRTII":1.9,"LJKRTCI":2.2,"LCHINSI":2.1,"LCHINCI":3.2},
      {"d":"2016-03-05","LUSDJII":1.1,"LUSDJCI":1.0,"LUKDJII":1.4,"LUKFTSE":1.3,"LJAPNSI":2.0,"LJAPNCI":2.0,"LBMHJSI":0.7,"LBMKLCI":0.75,"LJKRTII":1.6,"LJKRTCI":1.6,"LCHINSI":1.8,"LCHINCI":1.5},
      {"d":"2016-04-10","LUSDJII":0.95,"LUSDJCI":0.88,"LUKDJII":1.3,"LUKFTSE":1.1,"LJAPNSI":1.7,"LJAPNCI":1.6,"LBMHJSI":0.65,"LBMKLCI":0.7,"LJKRTII":1.5,"LJKRTCI":1.45,"LCHINSI":1.8,"LCHINCI":2.05},
      {"d":"2016-05-15","LUSDJII":0.9,"LUSDJCI":0.82,"LUKDJII":1.15,"LUKFTSE":1.0,"LJAPNSI":1.4,"LJAPNCI":1.35,"LBMHJSI":0.6,"LBMKLCI":0.6,"LJKRTII":1.35,"LJKRTCI":1.3,"LCHINSI":1.5,"LCHINCI":1.4},
      {"d":"2016-06-10","LUSDJII":0.9,"LUSDJCI":0.82,"LUKDJII":1.2,"LUKFTSE":1.05,"LJAPNSI":1.35,"LJAPNCI":1.3,"LBMHJSI":0.6,"LBMKLCI":0.6,"LJKRTII":1.3,"LJKRTCI":1.25,"LCHINSI":1.4,"LCHINCI":1.3},
      {"d":"2016-06-27","LUSDJII":1.2,"LUSDJCI":1.0,"LUKDJII":3.45,"LUKFTSE":1.75,"LJAPNSI":1.8,"LJAPNCI":1.7,"LBMHJSI":0.68,"LBMKLCI":0.75,"LJKRTII":1.6,"LJKRTCI":1.6,"LCHINSI":1.5,"LCHINCI":2.75},
      {"d":"2016-07-15","LUSDJII":1.0,"LUSDJCI":0.88,"LUKDJII":2.6,"LUKFTSE":1.4,"LJAPNSI":1.5,"LJAPNCI":1.4,"LBMHJSI":0.62,"LBMKLCI":0.7,"LJKRTII":1.4,"LJKRTCI":1.4,"LCHINSI":1.4,"LCHINCI":1.8},
      {"d":"2016-08-15","LUSDJII":0.8,"LUSDJCI":0.72,"LUKDJII":1.3,"LUKFTSE":1.0,"LJAPNSI":1.2,"LJAPNCI":1.15,"LBMHJSI":0.55,"LBMKLCI":0.6,"LJKRTII":1.3,"LJKRTCI":1.15,"LCHINSI":1.3,"LCHINCI":1.3},
      {"d":"2016-09-15","LUSDJII":0.85,"LUSDJCI":0.78,"LUKDJII":1.1,"LUKFTSE":0.95,"LJAPNSI":1.15,"LJAPNCI":1.1,"LBMHJSI":0.52,"LBMKLCI":0.58,"LJKRTII":1.5,"LJKRTCI":1.2,"LCHINSI":1.25,"LCHINCI":1.3},
      {"d":"2016-10-20","LUSDJII":0.8,"LUSDJCI":0.72,"LUKDJII":1.0,"LUKFTSE":0.9,"LJAPNSI":1.1,"LJAPNCI":1.05,"LBMHJSI":0.5,"LBMKLCI":0.55,"LJKRTII":1.3,"LJKRTCI":1.1,"LCHINSI":1.2,"LCHINCI":1.25},
      {"d":"2016-11-12","LUSDJII":0.9,"LUSDJCI":0.82,"LUKDJII":1.05,"LUKFTSE":1.0,"LJAPNSI":1.3,"LJAPNCI":1.2,"LBMHJSI":0.55,"LBMKLCI":0.62,"LJKRTII":1.6,"LJKRTCI":1.4,"LCHINSI":1.3,"LCHINCI":2.63},
      {"d":"2016-11-28","LUSDJII":0.85,"LUSDJCI":0.78,"LUKDJII":1.0,"LUKFTSE":0.95,"LJAPNSI":1.2,"LJAPNCI":1.1,"LBMHJSI":0.52,"LBMKLCI":0.58,"LJKRTII":1.45,"LJKRTCI":1.3,"LCHINSI":1.2,"LCHINCI":1.6},
      {"d":"2016-12-25","LUSDJII":0.78,"LUSDJCI":0.72,"LUKDJII":0.95,"LUKFTSE":0.88,"LJAPNSI":1.1,"LJAPNCI":1.05,"LBMHJSI":0.5,"LBMKLCI":0.52,"LJKRTII":1.5,"LJKRTCI":1.2,"LCHINSI":1.15,"LCHINCI":1.3},
      {"d":"2017-02-01","LUSDJII":0.72,"LUSDJCI":0.65,"LUKDJII":0.9,"LUKFTSE":0.8,"LJAPNSI":1.0,"LJAPNCI":0.95,"LBMHJSI":0.46,"LBMKLCI":0.48,"LJKRTII":1.2,"LJKRTCI":1.05,"LCHINSI":1.1,"LCHINCI":1.2},
      {"d":"2017-03-15","LUSDJII":0.7,"LUSDJCI":0.62,"LUKDJII":0.88,"LUKFTSE":0.78,"LJAPNSI":0.95,"LJAPNCI":0.9,"LBMHJSI":0.45,"LBMKLCI":0.47,"LJKRTII":1.1,"LJKRTCI":1.0,"LCHINSI":1.05,"LCHINCI":1.1},
      {"d":"2017-05-01","LUSDJII":0.68,"LUSDJCI":0.6,"LUKDJII":0.85,"LUKFTSE":0.75,"LJAPNSI":0.95,"LJAPNCI":0.9,"LBMHJSI":0.44,"LBMKLCI":0.46,"LJKRTII":1.15,"LJKRTCI":0.95,"LCHINSI":1.05,"LCHINCI":1.1},
      {"d":"2017-06-15","LUSDJII":0.65,"LUSDJCI":0.58,"LUKDJII":0.82,"LUKFTSE":0.72,"LJAPNSI":0.9,"LJAPNCI":0.85,"LBMHJSI":0.42,"LBMKLCI":0.45,"LJKRTII":1.05,"LJKRTCI":0.92,"LCHINSI":1.3,"LCHINCI":1.05},
      {"d":"2017-08-01","LUSDJII":0.65,"LUSDJCI":0.58,"LUKDJII":0.8,"LUKFTSE":0.72,"LJAPNSI":0.9,"LJAPNCI":0.85,"LBMHJSI":0.42,"LBMKLCI":0.44,"LJKRTII":1.1,"LJKRTCI":0.92,"LCHINSI":1.35,"LCHINCI":1.1},
      {"d":"2017-09-15","LUSDJII":0.63,"LUSDJCI":0.57,"LUKDJII":0.78,"LUKFTSE":0.7,"LJAPNSI":0.88,"LJAPNCI":0.84,"LBMHJSI":0.41,"LBMKLCI":0.43,"LJKRTII":1.05,"LJKRTCI":0.9,"LCHINSI":1.25,"LCHINCI":1.05},
      {"d":"2017-11-01","LUSDJII":0.63,"LUSDJCI":0.56,"LUKDJII":0.8,"LUKFTSE":0.72,"LJAPNSI":0.9,"LJAPNCI":0.86,"LBMHJSI":0.42,"LBMKLCI":0.44,"LJKRTII":1.05,"LJKRTCI":0.9,"LCHINSI":1.3,"LCHINCI":1.1},
      {"d":"2017-12-15","LUSDJII":0.65,"LUSDJCI":0.58,"LUKDJII":0.82,"LUKFTSE":0.75,"LJAPNSI":0.92,"LJAPNCI":0.88,"LBMHJSI":0.43,"LBMKLCI":0.45,"LJKRTII":1.1,"LJKRTCI":0.95,"LCHINSI":1.45,"LCHINCI":1.15},
      {"d":"2018-01-25","LUSDJII":0.72,"LUSDJCI":0.65,"LUKDJII":0.85,"LUKFTSE":0.8,"LJAPNSI":0.95,"LJAPNCI":0.9,"LBMHJSI":0.45,"LBMKLCI":0.48,"LJKRTII":1.1,"LJKRTCI":1.0,"LCHINSI":1.45,"LCHINCI":1.2},
      {"d":"2018-02-08","LUSDJII":1.85,"LUSDJCI":1.4,"LUKDJII":1.3,"LUKFTSE":1.1,"LJAPNSI":1.4,"LJAPNCI":1.3,"LBMHJSI":0.55,"LBMKLCI":0.7,"LJKRTII":1.5,"LJKRTCI":1.4,"LCHINSI":1.7,"LCHINCI":1.86},
      {"d":"2018-03-01","LUSDJII":1.5,"LUSDJCI":1.2,"LUKDJII":1.2,"LUKFTSE":1.0,"LJAPNSI":1.3,"LJAPNCI":1.25,"LBMHJSI":0.52,"LBMKLCI":0.65,"LJKRTII":1.4,"LJKRTCI":1.3,"LCHINSI":1.7,"LCHINCI":1.5},
      {"d":"2018-03-28","LUSDJII":1.3,"LUSDJCI":1.05,"LUKDJII":1.1,"LUKFTSE":0.95,"LJAPNSI":1.25,"LJAPNCI":1.2,"LBMHJSI":0.5,"LBMKLCI":0.62,"LJKRTII":1.45,"LJKRTCI":1.25,"LCHINSI":1.75,"LCHINCI":1.8},
      {"d":"2018-04-25","LUSDJII":1.1,"LUSDJCI":0.9,"LUKDJII":1.0,"LUKFTSE":0.9,"LJAPNSI":1.15,"LJAPNCI":1.1,"LBMHJSI":0.48,"LBMKLCI":0.58,"LJKRTII":1.55,"LJKRTCI":1.2,"LCHINSI":1.45,"LCHINCI":1.3},
      {"d":"2018-05-20","LUSDJII":0.95,"LUSDJCI":0.8,"LUKDJII":0.95,"LUKFTSE":0.85,"LJAPNSI":1.1,"LJAPNCI":1.05,"LBMHJSI":0.47,"LBMKLCI":0.6,"LJKRTII":1.65,"LJKRTCI":1.2,"LCHINSI":1.3,"LCHINCI":1.1},
      {"d":"2018-06-12","LUSDJII":0.85,"LUSDJCI":0.72,"LUKDJII":0.9,"LUKFTSE":0.75,"LJAPNSI":1.05,"LJAPNCI":1.0,"LBMHJSI":0.46,"LBMKLCI":0.6,"LJKRTII":1.4,"LJKRTCI":1.15,"LCHINSI":1.15,"LCHINCI":0.86}
    ]
  },
  "layer": [
    {
      "transform": [
        {"fold": ["LUSDJII","LUSDJCI","LUKDJII","LUKFTSE","LJAPNSI","LJAPNCI","LBMHJSI","LBMKLCI","LJKRTII","LJKRTCI","LCHINSI","LCHINCI"], "as": ["series","v"]}
      ],
      "mark": {"type": "line", "strokeWidth": 10, "strokeJoin": "round"},
      "encoding": {
        "x": {
          "field": "d",
          "type": "temporal",
          "scale": {"type": "utc", "domain": [{"year":2007,"month":11,"date":23,"utc":true},{"year":2019,"month":5,"date":31,"utc":true}], "nice": false},
          "axis": {
            "title": null,
            "values": [{"year":2007,"month":11,"date":23,"utc":true},{"year":2010,"month":7,"date":14,"utc":true},{"year":2013,"month":3,"date":4,"utc":true},{"year":2015,"month":10,"date":22,"utc":true},{"year":2018,"month":6,"date":7,"utc":true}],
            "format": "%d-%b-%y",
            "domain": false,
            "grid": false,
            "ticks": true,
            "tickSize": 40,
            "tickWidth": 7,
            "tickColor": "black",
            "offset": -20,
            "labelPadding": 42,
            "labelOffset": -20,
            "labelFont": "Liberation Sans",
            "labelFontSize": 56,
            "labelFontWeight": "bold",
            "labelColor": "black",
            "labelOverlap": false,
            "labelFlush": false,
            "labelLimit": 0
          }
        },
        "y": {
          "field": "v",
          "type": "quantitative",
          "scale": {"domain": [0, 12], "nice": false},
          "axis": {
            "title": null,
            "values": [0,1,2,3,4,5,6,7,8,9,10,11,12],
            "format": "d",
            "labelExpr": "datum.value % 2 == 0 ? datum.label : ''",
            "domain": false,
            "grid": false,
            "ticks": true,
            "tickSize": 30,
            "tickWidth": 7,
            "tickColor": "black",
            "offset": -15,
            "labelPadding": 22,
            "labelFont": "Liberation Sans",
            "labelFontSize": 52,
            "labelFontWeight": "bold",
            "labelColor": "black",
            "labelOverlap": false,
            "labelFlush": false,
            "labelBound": false,
            "labelLimit": 0
          }
        },
        "color": {
          "field": "series",
          "type": "nominal",
          "scale": {
            "domain": ["LUSDJII","LUSDJCI","LUKDJII","LUKFTSE","LJAPNSI","LJAPNCI","LBMHJSI","LBMKLCI","LJKRTII","LJKRTCI","LCHINSI","LCHINCI"],
            "range": ["#0000ff","#ff0000","#00dd00","#ff00ff","#fa8050","#cd8542","#4d6b33","#ff99ee","#9933cc","#ee9080","#80bc98","#403c8c"]
          },
          "legend": {
            "title": null,
            "orient": "none",
            "legendX": -177,
            "legendY": 1460,
            "columns": 4,
            "direction": "horizontal",
            "gridAlign": "all",
            "columnPadding": 182,
            "rowPadding": 0,
            "clipHeight": 67,
            "padding": 12,
            "fillColor": "#8ef6f6",
            "strokeColor": "#7fa4a4",
            "symbolType": "stroke",
            "symbolSize": 34969,
            "symbolStrokeWidth": 14,
            "symbolOffset": -15,
            "labelOffset": 40,
            "labelExpr": "'Vol(' + datum.label + ')'",
            "labelFont": "Liberation Sans",
            "labelFontSize": 44,
            "labelFontWeight": "bold",
            "labelColor": "black",
            "labelLimit": 0
          }
        }
      }
    },
    {
      "mark": {"type": "rule", "color": "black", "strokeWidth": 9},
      "encoding": {"x": {"datum": {"year":2007,"month":11,"date":23,"utc":true}, "type": "temporal"}}
    },
    {
      "mark": {"type": "rule", "color": "black", "strokeWidth": 12},
      "encoding": {"y": {"datum": 0, "type": "quantitative"}}
    }
  ]
}
